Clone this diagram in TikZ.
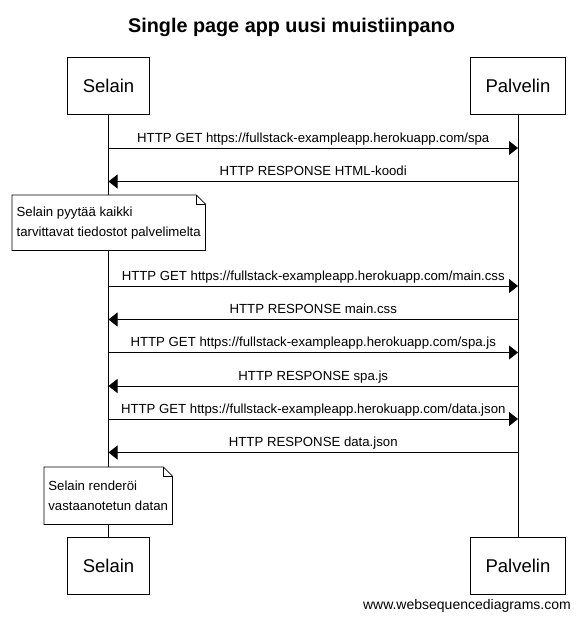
\documentclass[tikz,border=0pt]{standalone}
\usepackage{fontspec}
\setmainfont{Liberation Sans}
\usetikzlibrary{arrows.meta}

\begin{document}
\begin{tikzpicture}[x=1pt,y=-1pt,>={Triangle[length=9pt,width=14pt]},
   actor/.style={draw,line width=1pt,minimum height=57pt,inner xsep=15.5pt,
     font=\fontsize{18.5}{22}\selectfont},
   msg/.style={->,line width=1pt},
   msglabel/.style={midway,anchor=base,yshift=6pt,font=\fontsize{13.2}{16}\selectfont},
   notetext/.style={anchor=north west,align=left,inner sep=0pt,fill=white,
     font=\fontsize{13.2}{20}\selectfont}]
   \useasboundingbox (0,0) rectangle (581,619);
   % Title
   \node [anchor=base,font=\fontsize{19.8}{24}\selectfont\bfseries] (title) at (291.5,32)
      {Single page app uusi muistiinpano};
   % Participants
   \node [actor] (selainTop)   at (108.5,85.5)  {Selain};
   \node [actor] (palvelinTop) at (518,85.5)    {Palvelin};
   \node [actor] (selainBot)   at (108.5,565.5) {Selain};
   \node [actor] (palvelinBot) at (518,565.5)   {Palvelin};
   % Lifelines
   \draw [line width=1pt] (selainTop) -- (selainBot);
   \draw [line width=1pt] (palvelinTop) -- (palvelinBot);
   % Notes (filled, so they hide the lifeline)
   \node [notetext,minimum width=193pt,minimum height=55pt] (note1) at (12,195)
      {Selain pyytää kaikki\\tarvittavat tiedostot palvelimelta};
   \node [notetext,minimum width=128pt,minimum height=57pt] (note2) at (44,467)
      {Selain renderöi\\vastaanotetun datan};
   \foreach \n in {note1,note2} {
      \draw [line width=0.8pt] (\n.north west) -- ([xshift=-9pt]\n.north east)
         -- ([yshift=-9pt]\n.north east) -- (\n.south east) -- (\n.south west) -- cycle;
      \draw [line width=0.8pt] ([xshift=-9pt]\n.north east) |- ([yshift=-9pt]\n.north east);
   }
   % Messages
   \draw [msg] (selainTop |- 0,148) -- node [msglabel]
      {HTTP GET https://fullstack-exampleapp.herokuapp.com/spa} (palvelinTop |- 0,148);
   \draw [msg] (palvelinTop |- 0,181.5) -- node [msglabel]
      {HTTP RESPONSE HTML-koodi} (selainTop |- 0,181.5);
   \draw [msg] (selainTop |- 0,286) -- node [msglabel]
      {HTTP GET https://fullstack-exampleapp.herokuapp.com/main.css} (palvelinTop |- 0,286);
   \draw [msg] (palvelinTop |- 0,319.5) -- node [msglabel]
      {HTTP RESPONSE main.css} (selainTop |- 0,319.5);
   \draw [msg] (selainTop |- 0,352.5) -- node [msglabel]
      {HTTP GET https://fullstack-exampleapp.herokuapp.com/spa.js} (palvelinTop |- 0,352.5);
   \draw [msg] (palvelinTop |- 0,386) -- node [msglabel]
      {HTTP RESPONSE spa.js} (selainTop |- 0,386);
   \draw [msg] (selainTop |- 0,419) -- node [msglabel]
      {HTTP GET https://fullstack-exampleapp.herokuapp.com/data.json} (palvelinTop |- 0,419);
   \draw [msg] (palvelinTop |- 0,452.5) -- node [msglabel]
      {HTTP RESPONSE data.json} (selainTop |- 0,452.5);
   % Watermark
   \node [anchor=base east,inner sep=0pt,font=\fontsize{14}{16}\selectfont] (credit) at (571,609)
      {www.websequencediagrams.com};
\end{tikzpicture}
\end{document}
